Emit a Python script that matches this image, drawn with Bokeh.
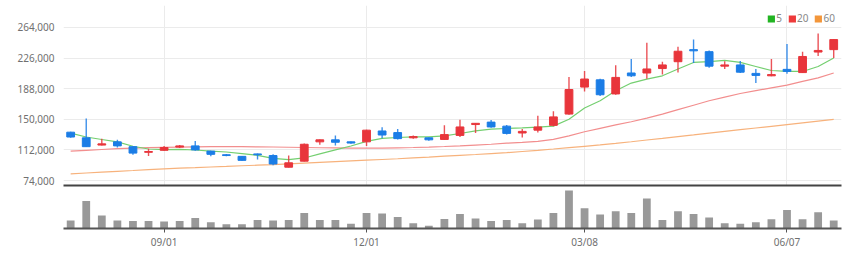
from bokeh.plotting import figure
from bokeh.layouts import column
from bokeh.models import (ColumnDataSource, Range1d, FixedTicker, NumeralTickFormatter,
                          Legend, LegendItem)
from bokeh.embed import file_html
from bokeh.resources import INLINE

# ---- data (weekly candles) ----
opens = [134000, 127000, 118000, 122000, 116000, 109000, 111500, 115500, 117000, 110500,
         106000, 104000, 107000, 105000, 90500, 98000, 122000, 124500, 122000, 122000,
         135500, 133500, 127000, 127000, 125000, 130000, 143500, 146500, 141500, 133000,
         136500, 142500, 156500, 190000, 199000, 181500, 207500, 207500, 213000, 221500,
         236500, 234000, 216000, 217500, 207000, 204000, 212000, 208000, 233500, 236500]
highs = [134500, 151000, 126000, 124500, 116500, 113500, 117000, 118000, 123000, 111000,
         107000, 104500, 107500, 106500, 105000, 120000, 125000, 130000, 122500, 137000,
         140000, 138000, 130000, 127500, 142500, 149500, 145500, 149000, 143000, 138000,
         154500, 160000, 202500, 210000, 200500, 217000, 225000, 245000, 221500, 240000,
         249000, 235500, 222000, 222500, 212500, 225000, 243500, 234000, 256500, 249500]
lows = [127000, 115500, 117500, 115000, 106000, 104500, 111000, 114500, 111000, 104000,
        104000, 98500, 100000, 93000, 90000, 97500, 118500, 117500, 119500, 117000,
        126500, 125000, 126000, 123500, 124500, 128000, 133000, 139500, 131000, 127500,
        133500, 141500, 155500, 184500, 179000, 180500, 202500, 200500, 205500, 208000,
        220000, 214000, 212500, 207500, 195000, 203500, 206500, 207500, 228500, 226000]
closes = [128000, 116000, 119500, 117000, 108000, 110000, 115000, 117000, 112000, 106500,
          105000, 99000, 106000, 94500, 96000, 119000, 124500, 121500, 120500, 136500,
          130500, 126000, 128500, 124500, 131000, 140500, 145000, 140500, 132500, 135000,
          140500, 153000, 187000, 200000, 180500, 202000, 204000, 212500, 217500, 234500,
          235000, 216000, 217500, 208500, 204500, 205500, 209500, 228000, 235500, 249000]
volumes = [24, 83, 39, 24, 23, 23, 21, 23, 32, 19,
           13, 13, 26, 24, 26, 47, 26, 26, 14, 47,
           45, 35, 16, 8, 29, 44, 30, 23, 26, 16,
           27, 47, 115, 61, 42, 52, 47, 91, 26, 52,
           44, 33, 16, 14, 19, 28, 56, 28, 49, 24]
ma5 = [132750, 128000, 124900, 121900, 116500, 113100, 112400, 112750, 111900, 110600,
       109400, 107300, 105250, 101500, 99900, 102000, 107000, 112000, 116800, 122500,
       126300, 127400, 128100, 128100, 129400, 132400, 135600, 137750, 138600, 139400,
       140250, 141500, 150000, 164000, 173000, 185500, 195000, 199900, 204000, 212400,
       220600, 221500, 223100, 220600, 215600, 210600, 209400, 209400, 215600, 226100]
ma20 = [110500, 111500, 112500, 113500, 114300, 114800, 115200, 115500, 115800, 116000,
        116000, 116000, 115800, 115600, 115300, 115000, 114700, 114500, 114300, 114200,
        114300, 114600, 115000, 115500, 116200, 117000, 118000, 119000, 120300, 121300,
        122500, 125000, 129500, 134500, 138800, 143000, 147000, 151500, 156500, 162000,
        167500, 173000, 177500, 182000, 185500, 189000, 192500, 197000, 201500, 207500]
ma60 = [82300, 83300, 84300, 85400, 86400, 87500, 88500, 89300, 90000, 90800,
        91500, 92300, 93000, 93800, 94700, 95600, 96500, 97400, 98300, 99200,
        100100, 101000, 102100, 103100, 104200, 105300, 106300, 107400, 108500, 110000,
        111500, 113100, 114800, 116500, 118200, 120000, 122100, 124300, 126400, 128600,
        130700, 132900, 135000, 137100, 139200, 141300, 143500, 145600, 147700, 149800]
price_ticks = [74000, 112000, 150000, 188000, 226000, 264000]
date_tick_index = [6, 19, 33, 46]
date_tick_labels = ["09/01", "12/01", "03/08", "06/07"]
legend_labels = ["5", "20", "60"]
legend_colors = ["#22b422", "#ee3a3a", "#f3963a"]

# ---- styling ----
UP = "#e8353b"
DOWN = "#1b7de6"
FONT = "Noto Sans"
TXT = "#707070"

idx = list(range(len(opens)))
colors = [UP if c >= o else DOWN for o, c in zip(opens, closes)]
src = ColumnDataSource(dict(
    x=idx, open=opens, high=highs, low=lows, close=closes,
    top=[max(o, c) for o, c in zip(opens, closes)],
    bottom=[min(o, c) for o, c in zip(opens, closes)],
    color=colors, vol=volumes, ma5=ma5, ma20=ma20, ma60=ma60))

xr = Range1d(-0.46, 49.5)

p = figure(frame_width=778, frame_height=180, x_range=xr, y_range=Range1d(67800, 291300),
           output_backend="svg", toolbar_location=None,
           min_border_left=63, min_border_right=23, min_border_top=5, min_border_bottom=3)
p.outline_line_color = None
p.background_fill_color = "white"

p.line("x", "ma60", source=src, color="#f7b27c", line_width=1.2)
p.line("x", "ma20", source=src, color="#f28e8e", line_width=1.2)
p.line("x", "ma5", source=src, color="#74cf70", line_width=1.2)
p.segment(x0="x", y0="low", x1="x", y1="high", source=src, color="color", line_width=1.4, line_alpha=0.85)
p.vbar(x="x", top="top", bottom="bottom", width=0.5, source=src,
       fill_color="color", line_color="color", line_width=1)

# legend swatches (invisible helper glyphs, one NaN row each so the legend can draw them)
nan = float("nan")
swatches = [p.quad(left=[nan], right=[nan], top=[nan], bottom=[nan], fill_color=c, line_color=None)
            for c in legend_colors]
leg = Legend(items=[LegendItem(label=lab, renderers=[r], index=0)
                    for lab, r in zip(legend_labels, swatches)],
             location="top_right", orientation="horizontal")
leg.background_fill_alpha = 0
leg.border_line_alpha = 0
leg.label_text_font = FONT
leg.label_text_font_size = "10px"
leg.label_text_color = "#888888"
leg.glyph_width = 9
leg.glyph_height = 9
leg.label_width = 0
leg.label_height = 9
leg.label_standoff = 1
leg.spacing = 5
leg.padding = 0
leg.margin = 6
p.add_layout(leg)

p.yaxis.ticker = FixedTicker(ticks=price_ticks)
p.yaxis.formatter = NumeralTickFormatter(format="0,0")
p.yaxis.axis_line_color = None
p.yaxis.major_tick_line_color = None
p.yaxis.minor_tick_line_color = None
p.yaxis.major_label_standoff = 3
p.yaxis.major_label_text_font = FONT
p.yaxis.major_label_text_font_size = "10px"
p.yaxis.major_label_text_color = TXT

# bottom axis of the price panel: line only (separator), no labels
p.xaxis.ticker = FixedTicker(ticks=[])
p.xaxis.major_label_standoff = 0
p.xaxis.major_tick_line_color = None
p.xaxis.minor_tick_line_color = None
p.xaxis.axis_line_color = "#444444"
p.xaxis.axis_line_width = 2
p.xgrid.ticker = FixedTicker(ticks=date_tick_index)
p.grid.grid_line_color = "#ebebeb"
p.grid.grid_line_width = 1

# ---- volume panel ----
v = figure(frame_width=778, frame_height=40, x_range=xr, y_range=Range1d(0, 121),
           output_backend="svg", toolbar_location=None,
           min_border_left=63, min_border_right=23, min_border_top=0, min_border_bottom=27)
v.outline_line_color = None
v.vbar(x="x", top="vol", width=0.5, source=src, fill_color="#999999", line_color=None)
v.yaxis.visible = False
v.grid.visible = False
v.xaxis.ticker = FixedTicker(ticks=date_tick_index)
v.xaxis.major_label_overrides = {i: s for i, s in zip(date_tick_index, date_tick_labels)}
v.xaxis.axis_line_color = "#555555"
v.xaxis.axis_line_width = 2
v.xaxis.major_tick_line_color = "#555555"
v.xaxis.major_tick_out = 4
v.xaxis.major_tick_in = 0
v.xaxis.minor_tick_line_color = None
v.xaxis.major_label_standoff = 2
v.xaxis.major_label_text_font = FONT
v.xaxis.major_label_text_font_size = "10px"
v.xaxis.major_label_text_color = TXT

layout = column(p, v, spacing=0)
open("out.html", "w").write(file_html(layout, INLINE))
